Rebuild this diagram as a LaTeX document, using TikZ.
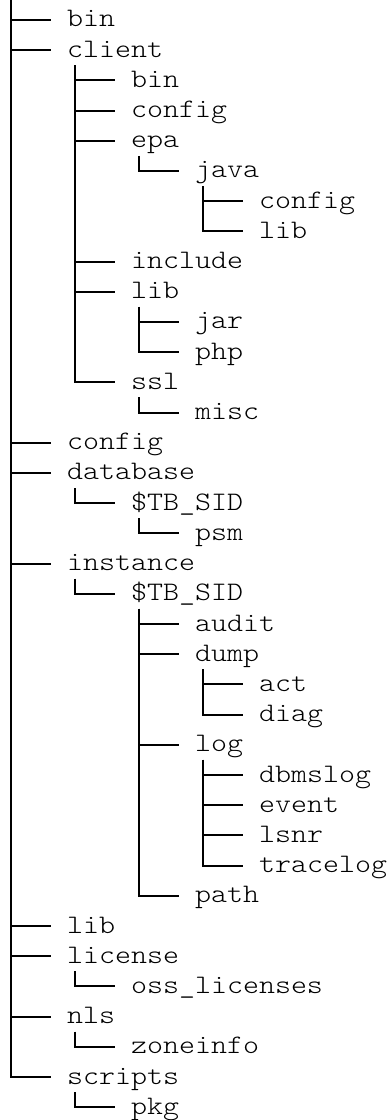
\documentclass[tikz,border=0pt]{standalone}
\usepackage{fontspec}
\setmonofont{lmmonolt10-regular.otf}[FakeStretch=1.14]
\tikzset{
  dir/.style={anchor=west, inner sep=0pt, text height=18pt, text depth=4pt,
    font=\ttfamily\fontsize{26.7}{30}\selectfont},
  branch/.style={line width=2pt}
}
\begin{document}
\begin{tikzpicture}
      [x=16pt, y=-30.2pt]
      \useasboundingbox (-0.1875, -0.662) rectangle (24.1875, 36.424);
      \coordinate (root) at (0.5, -0.662);

      % top level
      \node[dir] (bin) at (4, 0) {bin};
      \node[dir] (client) at (4, 1) {client};
      \node[dir] (config) at (4, 14) {config};
      \node[dir] (database) at (4, 15) {database};
      \node[dir] (instance) at (4, 18) {instance};
      \node[dir] (lib) at (4, 30) {lib};
      \node[dir] (license) at (4, 31) {license};
      \node[dir] (nls) at (4, 33) {nls};
      \node[dir] (scripts) at (4, 35) {scripts};

      % client
      \node[dir] (client-bin) at (8, 2) {bin};
      \node[dir] (client-config) at (8, 3) {config};
      \node[dir] (epa) at (8, 4) {epa};
      \node[dir] (java) at (12, 5) {java};
      \node[dir] (java-config) at (16, 6) {config};
      \node[dir] (java-lib) at (16, 7) {lib};
      \node[dir] (include) at (8, 8) {include};
      \node[dir] (client-lib) at (8, 9) {lib};
      \node[dir] (jar) at (12, 10) {jar};
      \node[dir] (php) at (12, 11) {php};
      \node[dir] (ssl) at (8, 12) {ssl};
      \node[dir] (misc) at (12, 13) {misc};

      % database
      \node[dir] (db-sid) at (8, 16) {\$TB\_SID};
      \node[dir] (psm) at (12, 17) {psm};

      % instance
      \node[dir] (inst-sid) at (8, 19) {\$TB\_SID};
      \node[dir] (audit) at (12, 20) {audit};
      \node[dir] (dump) at (12, 21) {dump};
      \node[dir] (act) at (16, 22) {act};
      \node[dir] (diag) at (16, 23) {diag};
      \node[dir] (log) at (12, 24) {log};
      \node[dir] (dbmslog) at (16, 25) {dbmslog};
      \node[dir] (event) at (16, 26) {event};
      \node[dir] (lsnr) at (16, 27) {lsnr};
      \node[dir] (tracelog) at (16, 28) {tracelog};
      \node[dir] (path) at (12, 29) {path};

      % license, nls, scripts
      \node[dir] (oss) at (8, 32) {oss\_licenses};
      \node[dir] (zoneinfo) at (8, 34) {zoneinfo};
      \node[dir] (pkg) at (8, 36) {pkg};

      % stems below each parent
      \foreach \p in {client, epa, java, client-lib, ssl, database, db-sid,
        instance, inst-sid, dump, log, license, nls, scripts}
        \coordinate (\p-stem) at ([xshift=8pt, yshift=-15.1pt]\p.west);

      % branches
      \foreach \c in {bin, client, config, database, instance, lib, license, nls, scripts}
        \draw[branch] (root) |- ([xshift=-16pt]\c.west);
      \foreach \c in {client-bin, client-config, epa, include, client-lib, ssl}
        \draw[branch] (client-stem) |- ([xshift=-16pt]\c.west);
      \draw[branch] (epa-stem) |- ([xshift=-16pt]java.west);
      \foreach \c in {java-config, java-lib}
        \draw[branch] (java-stem) |- ([xshift=-16pt]\c.west);
      \foreach \c in {jar, php}
        \draw[branch] (client-lib-stem) |- ([xshift=-16pt]\c.west);
      \draw[branch] (ssl-stem) |- ([xshift=-16pt]misc.west);
      \draw[branch] (database-stem) |- ([xshift=-16pt]db-sid.west);
      \draw[branch] (db-sid-stem) |- ([xshift=-16pt]psm.west);
      \draw[branch] (instance-stem) |- ([xshift=-16pt]inst-sid.west);
      \foreach \c in {audit, dump, log, path}
        \draw[branch] (inst-sid-stem) |- ([xshift=-16pt]\c.west);
      \foreach \c in {act, diag}
        \draw[branch] (dump-stem) |- ([xshift=-16pt]\c.west);
      \foreach \c in {dbmslog, event, lsnr, tracelog}
        \draw[branch] (log-stem) |- ([xshift=-16pt]\c.west);
      \draw[branch] (license-stem) |- ([xshift=-16pt]oss.west);
      \draw[branch] (nls-stem) |- ([xshift=-16pt]zoneinfo.west);
      \draw[branch] (scripts-stem) |- ([xshift=-16pt]pkg.west);
    \end{tikzpicture}
\end{document}
